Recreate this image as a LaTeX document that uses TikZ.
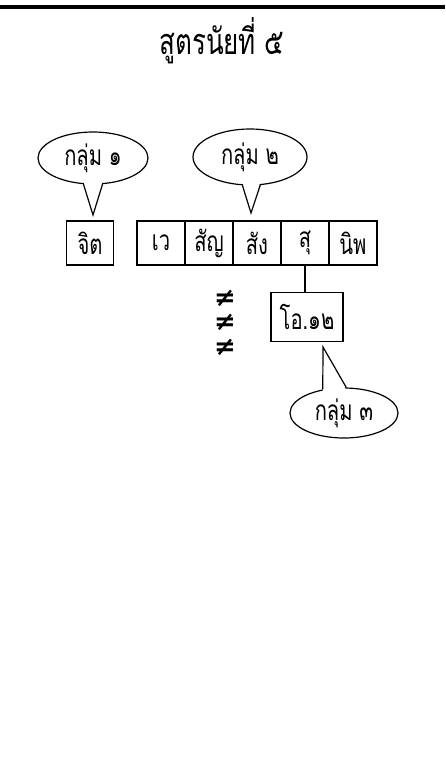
\documentclass[tikz,border=0pt]{standalone}
\usepackage{fontspec}
\usetikzlibrary{shapes.geometric}
\newfontfamily\thaifont[Script=Thai, FakeStretch=0.72]{Loma}
\newfontfamily\symfont{DejaVu Sans}

\tikzset{
    cell/.style={draw, line width=1.2pt, minimum width=48pt, minimum height=44pt, inner sep=0pt,
                 font=\thaifont\fontsize{28}{28}\selectfont},
    callout/.style={draw, line width=1.2pt, ellipse, fill=white, inner sep=0pt,
                    font=\thaifont\fontsize{28}{28}\selectfont},
    noteq/.style={inner sep=0pt, font=\symfont\bfseries\fontsize{26}{26}\selectfont},
}

\begin{document}
\begin{tikzpicture}[x=1pt, y=-1pt]
    \useasboundingbox (0,0) rectangle (445,779);

    % Top rule and heading
    \fill (0,5) rectangle (445,9);
    \node[font=\thaifont\fontsize{36}{36}\selectfont] (title) at (222,41) {สูตรนัยที่ ๕};

    % Boxes
    \node[cell, minimum width=47pt] (jit) at (90,243) {จิต};
    \node[cell] (we)    at (161,243) {เว};
    \node[cell] (sanya) at (209,243) {สัญ};
    \node[cell] (sang)  at (257,243) {สัง};
    \node[cell] (su)    at (305,243) {สุ};
    \node[cell] (nip)   at (353,243) {นิพ};
    \node[cell, minimum width=72pt, minimum height=49pt] (o12) at (307,317) {โอ.๑๒};
    \draw[line width=1.2pt] (su.south) -- (su.south |- o12.north);

    % Not-equal signs
    \node[noteq] (ne1) at (225,298) {≠};
    \node[noteq] (ne2) at (225,322) {≠};
    \node[noteq] (ne3) at (225,347) {≠};

    % Callout 1
    \node[callout, minimum width=110pt, minimum height=52pt] (g1) at (93,158) {กลุ่ม ๑};
    \coordinate (tip1) at (93,215);
    \fill[white] ([yshift=3pt]g1.-110) -- (tip1) -- ([yshift=3pt]g1.-70) -- cycle;
    \draw[line width=1.2pt] (g1.-110) -- (tip1) -- (g1.-70);

    % Callout 2
    \node[callout, minimum width=114pt, minimum height=56pt] (g2) at (250,157) {กลุ่ม ๒};
    \coordinate (tip2) at (251,213);
    \fill[white] ([yshift=3pt]g2.-105) -- (tip2) -- ([yshift=3pt]g2.-70) -- cycle;
    \draw[line width=1.2pt] (g2.-105) -- (tip2) -- (g2.-70);

    % Callout 3
    \node[callout, minimum width=108pt, minimum height=50pt] (g3) at (344,413) {กลุ่ม ๓};
    \coordinate (tip3) at (323,347);
    \fill[white] ([yshift=-3pt]g3.132) -- (tip3) -- ([yshift=-3pt]g3.85) -- cycle;
    \draw[line width=1.2pt] (g3.132) -- (tip3) -- (g3.85);
\end{tikzpicture}
\end{document}
